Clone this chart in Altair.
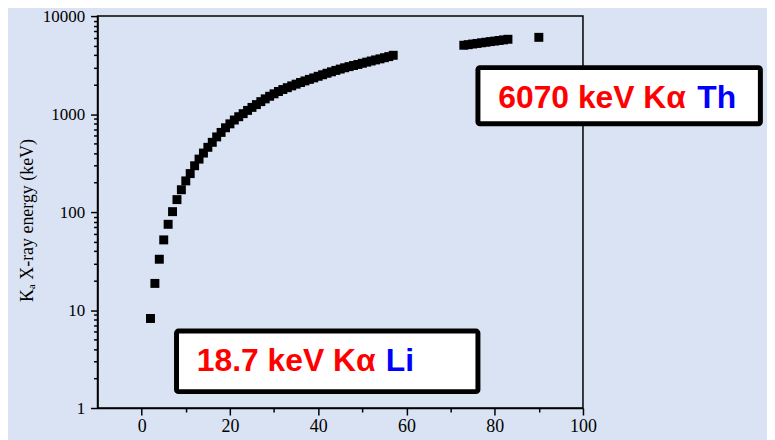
import altair as alt
import pandas as pd

# ---- data ----
z_values = list(range(2, 58)) + list(range(73, 84)) + [90]
energy_kev = [
    8.2, 18.7, 33, 52, 75, 101, 134, 169, 208, 247,
    297, 347, 400, 458, 515, 585, 650, 725, 795, 870,
    940, 1010, 1090, 1170, 1250, 1340, 1430, 1520, 1610, 1700,
    1780, 1860, 1940, 2020, 2100, 2180, 2260, 2340, 2430, 2520,
    2610, 2700, 2790, 2880, 2970, 3050, 3130, 3210, 3300, 3390,
    3480, 3570, 3660, 3760, 3860, 3980,
    5040, 5110, 5190, 5260, 5340, 5410, 5490, 5560, 5640, 5720, 5800,
    6070,
]

x_major = [0, 20, 40, 60, 80, 100]
x_minor = [10, 30, 50, 70, 90]
y_major = [1, 10, 100, 1000, 10000]
y_minor = [m * d for d in [1, 10, 100, 1000] for m in range(2, 10)]

# annotation boxes (data coordinates)
box_x = [76.2, 7.9]
box_x2 = [140.2, 76.2]
box_y = [2980, 6.1]
box_y2 = [797, 1.47]
red_text = ["6070 keV Kα", "18.7 keV Kα"]
red_x = [80.8, 12.5]
blue_text = ["Th", "Li"]
blue_x = [125.9, 55.3]
text_y = [1471, 3.0]

df = pd.DataFrame({"Z": z_values, "E": energy_kev})
boxes = pd.DataFrame({"x": box_x, "x2": box_x2, "y": box_y, "y2": box_y2})
reds = pd.DataFrame({"x": red_x, "y": text_y, "t": red_text})
blues = pd.DataFrame({"x": blue_x, "y": text_y, "t": blue_text})

xscale = alt.Scale(domain=[-10, 100], nice=False, zero=False)
yscale = alt.Scale(type="log", domain=[1, 10000], nice=False)

FONT = "Liberation Serif"

points = alt.Chart(df).mark_point(
    shape="square", filled=True, size=81, color="black", opacity=1, strokeWidth=0
).encode(
    x=alt.X("Z:Q", scale=xscale, axis=alt.Axis(
        values=x_major, title=None, orient="bottom", grid=False,
        tickSize=7, tickWidth=1.5, tickColor="black",
        domainColor="black", domainWidth=1.5,
        labelFont=FONT, labelFontSize=18, labelColor="black", labelPadding=3,
        labelFlush=False)),
    y=alt.Y("E:Q", scale=yscale, axis=alt.Axis(
        values=y_major, format="d", orient="left", grid=False,
        title="Kₐ X-ray energy (keV)", titleFont=FONT, titleFontSize=18,
        titleFontWeight="normal", titleColor="black", titleX=-61, titleY=205,
        tickSize=7, tickWidth=1.5, tickColor="black",
        domainColor="black", domainWidth=1.5,
        labelFont=FONT, labelFontSize=17, labelColor="black", labelPadding=6,
        labelFlush=False)),
)

minor = alt.Chart(df).mark_point(opacity=0).encode(
    x=alt.X("Z:Q", scale=xscale, axis=alt.Axis(
        values=x_minor, labels=False, title=None, orient="bottom", grid=False,
        domain=False, tickSize=4, tickWidth=1.5, tickColor="black")),
    y=alt.Y("E:Q", scale=yscale, axis=alt.Axis(
        values=y_minor, labels=False, title=None, orient="left", grid=False,
        domain=False, tickSize=4, tickWidth=1.5, tickColor="black")),
)

rects = alt.Chart(boxes).mark_rect(
    fill="white", stroke="black", strokeWidth=5, cornerRadius=2
).encode(
    x=alt.X("x:Q", scale=xscale, axis=None),
    x2="x2:Q",
    y=alt.Y("y:Q", scale=yscale, axis=None),
    y2="y2:Q",
)

red = alt.Chart(reds).mark_text(
    align="left", baseline="middle", font="Liberation Sans", fontWeight="bold",
    fontSize=32, color="#ff0000"
).encode(
    x=alt.X("x:Q", scale=xscale, axis=None),
    y=alt.Y("y:Q", scale=yscale, axis=None),
    text="t:N",
)

blue = alt.Chart(blues).mark_text(
    align="left", baseline="middle", font="Liberation Sans", fontWeight="bold",
    fontSize=32, color="#0000ff"
).encode(
    x=alt.X("x:Q", scale=xscale, axis=None),
    y=alt.Y("y:Q", scale=yscale, axis=None),
    text="t:N",
)

chart = alt.layer(minor, points, rects, red, blue).resolve_axis(
    x="independent", y="independent"
).properties(
    width=488, height=394,
    autosize=alt.AutoSizeParams(type="none"),
    padding={"left": 90, "top": 7, "right": 185, "bottom": 31},
    background="#dae3f3",
).configure_view(
    stroke="black", strokeWidth=1.5, fill=None
)

chart.save("out.html", embed_options={"renderer": "svg", "actions": False})
